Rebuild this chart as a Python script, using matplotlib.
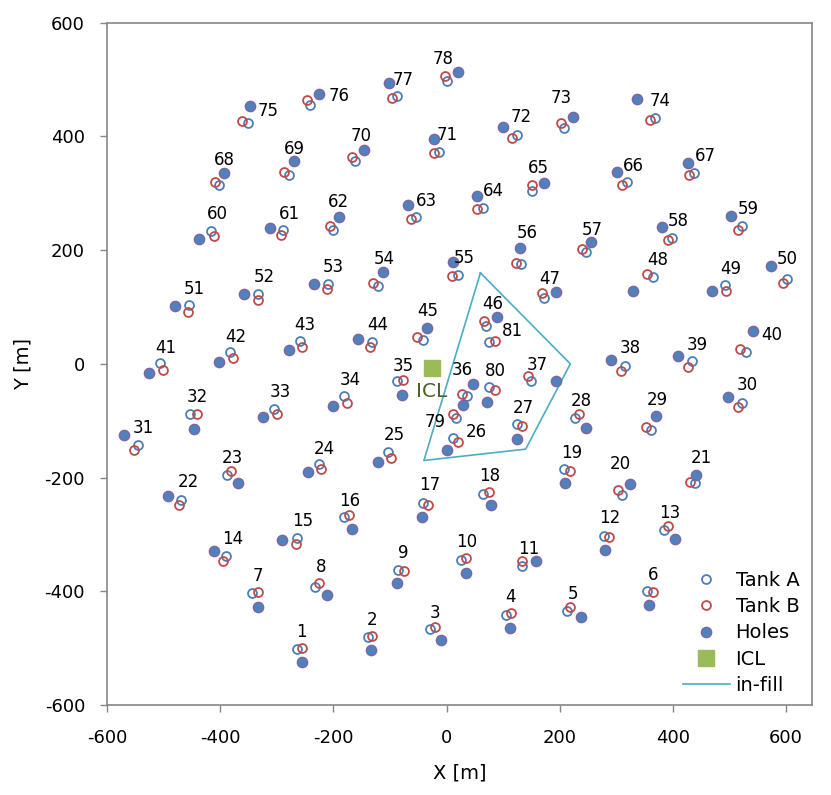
import numpy as np
import matplotlib
matplotlib.use("Agg")
import matplotlib.pyplot as plt

# ---------------- data ----------------
stations = list(range(1, 82))

tank_a_x = [-265, -139, -29, 105, 213, 355, -344, -232, -86, 25,
            134, 278, 384, -390, -265, -182, -41, 65, 208, 311,
            439, -469, -388, -226, -103, 12, 125, 228, 362, 522,
            -546, -453, -305, -181, -87, 36, 149, 316, 434, 529,
            -506, -383, -260, -131, -42, 70, 172, 366, 493, 602,
            -456, -333, -210, -122, 20, 132, 247, 399, 522, -416,
            -289, -201, -54, 64, 152, 319, 438, -403, -279, -161,
            -13, 124, 208, 368, -352, -241, -88, 1, 17, 76, 76]
tank_a_y = [-501, -480, -467, -442, -435, -400, -403, -392, -362, -345,
            -355, -302, -292, -338, -307, -269, -245, -229, -185, -231,
            -210, -239, -196, -176, -155, -130, -106, -96, -117, -68,
            -142, -89, -79, -57, -31, -56, -31, -4, 5, 21,
            1, 20, 40, 39, 42, 67, 115, 152, 139, 149,
            103, 122, 141, 137, 157, 176, 196, 222, 243, 234,
            235, 235, 258, 274, 304, 319, 336, 315, 333, 357,
            373, 403, 415, 433, 424, 456, 471, 497, -95, -41, 38]

tank_b_x = [-256, -131, -21, 114, 219, 365, -334, -225, -76, 34,
            133, 287, 391, -395, -266, -173, -32, 75, 219, 304,
            431, -473, -381, -222, -98, 20, 134, 235, 353, 516,
            -553, -442, -299, -176, -77, 28, 145, 309, 427, 520,
            -502, -378, -256, -135, -52, 66, 169, 355, 495, 595,
            -457, -334, -212, -130, 10, 123, 240, 391, 516, -411,
            -292, -206, -62, 54, 151, 311, 429, -410, -288, -168,
            -22, 115, 202, 360, -361, -247, -97, -3, 11, 85, 86]
tank_b_y = [-499, -479, -462, -439, -427, -402, -401, -385, -365, -342,
            -346, -304, -285, -346, -317, -265, -248, -225, -188, -222,
            -207, -248, -189, -185, -165, -137, -109, -89, -111, -76,
            -151, -89, -88, -69, -29, -53, -22, -12, -5, 26,
            -10, 11, 30, 29, 47, 76, 125, 158, 128, 142,
            92, 112, 131, 143, 155, 178, 202, 217, 236, 224,
            226, 243, 254, 273, 315, 315, 333, 319, 338, 364,
            370, 397, 423, 428, 427, 464, 467, 507, -88, -46, 41]

holes_x = [-256, -133, -10, 113, 237, 359, -334, -211, -88, 34,
           158, 281, 404, -412, -291, -167, -44, 79, 209, 325,
           441, -492, -368, -245, -121, 1, 125, 247, 370, 498,
           -570, -447, -325, -200, -78, 46, 193, 291, 410, 542,
           -526, -403, -279, -156, -34, 90, 193, 329, 470, 574,
           -481, -358, -235, -112, 11, 130, 256, 381, 503, -437,
           -313, -190, -68, 54, 173, 302, 428, -393, -269, -146,
           -22, 100, 223, 337, -347, -225, -102, 21, 30, 71, np.nan]
holes_y = [-524, -504, -485, -465, -445, -425, -427, -407, -386, -367,
           -347, -328, -308, -329, -310, -290, -269, -249, -209, -211,
           -195, -232, -210, -191, -172, -152, -132, -112, -92, -58,
           -125, -114, -94, -75, -55, -35, -31, 6, 13, 57,
           -16, 4, 24, 43, 63, 83, 126, 128, 128, 172,
           102, 122, 141, 161, 180, 204, 214, 240, 260, 219,
           239, 259, 279, 295, 318, 338, 354, 336, 356, 376,
           396, 416, 435, 466, 454, 474, 494, 513, -73, -67, np.nan]

# station number label anchor points (data coordinates)
label_x = [-257, -132, -20, 114, 224, 365, -334, -222, -76, 36,
           145, 288, 395, -378, -255, -172, -29, 76, 221, 307,
           450, -457, -378, -216, -93, 52, 135, 238, 372, 532,
           -537, -441, -294, -170, -76, 28, 161, 325, 443, 575,
           -496, -373, -250, -121, -33, 81, 182, 374, 503, 603,
           -446, -323, -200, -111, 32, 142, 258, 410, 533, -406,
           -278, -191, -35, 83, 163, 330, 458, -393, -269, -151,
           2, 132, 203, 378, -315, -190, -77, -6, -21, 86, 116]
label_y = [-471, -451, -438, -410, -405, -371, -373, -357, -332, -314,
           -326, -271, -262, -308, -277, -241, -213, -197, -156, -176,
           -165, -207, -166, -149, -126, -119, -77, -66, -63, -37,
           -112, -59, -49, -29, -3, -10, -2, 28, 34, 51,
           28, 48, 68, 68, 93, 106, 149, 182, 167, 184,
           131, 152, 170, 185, 187, 230, 235, 252, 272, 263,
           264, 285, 287, 304, 345, 348, 365, 358, 377, 401,
           403, 434, 468, 463, 445, 471, 500, 536, -103, -12, 58]

icl_x = [-25]
icl_y = [-8]
icl_label = "ICL"

infill_x = [60, 219, 140, -40, 60]
infill_y = [160, 0, -150, -170, 160]

x_ticks = [-600, -400, -200, 0, 200, 400, 600]
y_ticks = [-600, -400, -200, 0, 200, 400, 600]

# ---------------- figure ----------------
plt.rcParams['font.family'] = ['DejaVu Sans']
plt.rcParams['axes.unicode_minus'] = False
W, H = 831, 795
fig = plt.figure(figsize=(W / 100, H / 100), dpi=100)
ax_left, ax_right, ax_bottom, ax_top = 107.3, 812.3, 705.0, 22.7
ax = fig.add_axes([ax_left / W, 1 - ax_bottom / H,
                   (ax_right - ax_left) / W, (ax_bottom - ax_top) / H])

blue = '#4A7EBB'
red = '#BE4B48'
hole_fill = '#4F81BD'
hole_edge = '#8064A2'
green = '#9BBB59'
aqua = '#4BACC6'
gray = '#868686'

ax.plot(tank_a_x, tank_a_y, 'o', ls='none', ms=6.4, mfc='none', mec=blue,
        mew=1.3, label='Tank A', zorder=3)
ax.plot(tank_b_x, tank_b_y, 'o', ls='none', ms=6.4, mfc='none', mec=red,
        mew=1.3, label='Tank B', zorder=4)
ax.plot(holes_x, holes_y, 'o', ls='none', ms=7.4, mfc=hole_fill, mec=hole_edge,
        mew=1.0, label='Holes', zorder=5)
ax.plot(icl_x, icl_y, 's', ls='none', ms=11, mfc=green, mec=green,
        label='ICL', zorder=5)
ax.plot(infill_x, infill_y, '-', color=aqua, lw=1.2, label='in-fill', zorder=2)

for s, lx, ly in zip(stations, label_x, label_y):
    ax.text(lx, ly, str(s), ha='center', va='center', fontsize=12, color='black', zorder=6)

ax.text(icl_x[0] - 1, icl_y[0] - 41, icl_label, ha='center', va='center',
        fontsize=14.5, color='#4F6228', zorder=6)

ax.set_xlim(-600, 647)
ax.set_ylim(-600, 600)
ax.set_xticks(x_ticks)
ax.set_yticks(y_ticks)
ax.tick_params(axis='both', direction='out', length=5, width=1, color=gray,
               labelsize=13)
ax.tick_params(axis='x', pad=12)
ax.tick_params(axis='y', pad=11)
for sp in ax.spines.values():
    sp.set_color(gray)
    sp.set_linewidth(1.2)

ax.set_xlabel('X [m]', fontsize=14, labelpad=12)
ax.set_ylabel('Y [m]', fontsize=14, labelpad=9)

leg = ax.legend(loc='upper left', bbox_to_anchor=(683 / W, 1 - 571 / H),
                bbox_transform=fig.transFigure, frameon=False, fontsize=14,
                handlelength=2.4, handletextpad=0.3, labelspacing=0.37,
                borderpad=0, borderaxespad=0)

fig.savefig('out.png', dpi=100)
